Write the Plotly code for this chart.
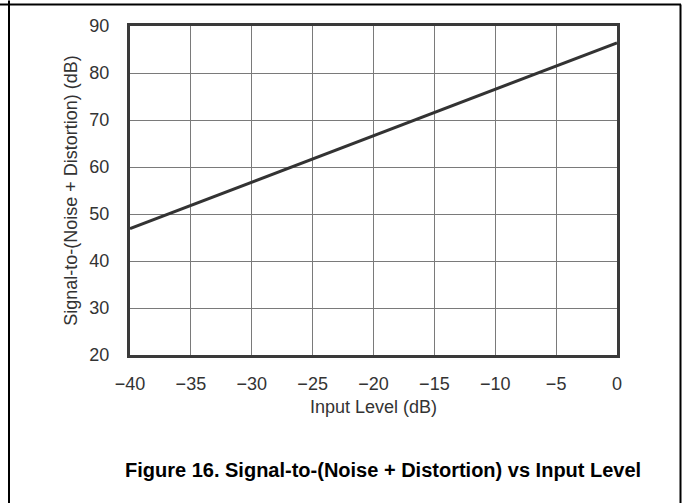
import plotly.graph_objects as go

input_level = [-40, 0]
sinad = [46.9, 86.4]
x_ticks = [-40, -35, -30, -25, -20, -15, -10, -5, 0]
x_tick_labels = ["\u221240", "\u221235", "\u221230", "\u221225", "\u221220", "\u221215", "\u221210", "\u22125", "0"]
y_ticks = [20, 30, 40, 50, 60, 70, 80, 90]

W, H = 683, 504
L, R, T, B = 130, 617, 25.5, 355.5
pw, ph = R - L, B - T

def px(x):
    return (x - L) / pw

def py(y):
    return (B - y) / ph

fig = go.Figure()
fig.add_trace(go.Scatter(x=input_level, y=sinad, mode="lines",
                         line=dict(color="#333333", width=3), showlegend=False))

font_family = "Liberation Sans, Arial, sans-serif"
fig.update_layout(
    width=W, height=H,
    margin=dict(l=L, r=W - R, t=T, b=H - B),
    paper_bgcolor="white", plot_bgcolor="white",
    font=dict(family=font_family, color="#333333", size=18),
    xaxis=dict(range=[-40, 0], tickvals=x_ticks, ticktext=x_tick_labels,
               showgrid=True, gridcolor="#7a7a7a", gridwidth=1,
               showline=True, linecolor="#3a3a3a", linewidth=3, mirror=True,
               ticks="outside", ticklen=10, tickcolor="rgba(0,0,0,0)",
               zeroline=False,
               title=dict(text="Input Level (dB)", standoff=8, font=dict(size=18))),
    yaxis=dict(range=[20, 90], tickvals=y_ticks,
               showgrid=True, gridcolor="#7a7a7a", gridwidth=1,
               showline=True, linecolor="#3a3a3a", linewidth=3, mirror=True,
               ticks="outside", ticklen=14, tickcolor="rgba(0,0,0,0)",
               zeroline=False,
               title=dict(text="Signal-to-(Noise + Distortion) (dB)", standoff=8, font=dict(size=18))),
    shapes=[
        dict(type="line", xref="paper", yref="paper", x0=px(0), x1=px(681), y0=py(4), y1=py(4),
             line=dict(color="black", width=2)),
        dict(type="line", xref="paper", yref="paper", x0=px(9), x1=px(9), y0=py(0), y1=py(504),
             line=dict(color="black", width=2)),
        dict(type="line", xref="paper", yref="paper", x0=px(680.5), x1=px(680.5), y0=py(4), y1=py(504),
             line=dict(color="black", width=2)),
    ],
    annotations=[
        dict(text="<b>Figure 16. Signal-to-(Noise + Distortion) vs Input Level</b>",
             xref="paper", yref="paper", x=px(383), y=py(471), showarrow=False,
             xanchor="center", yanchor="middle",
             font=dict(family=font_family, size=20, color="black")),
    ],
)

fig.write_html("out.html", config={"displayModeBar": False},
               post_script="document.body.style.margin='0';document.body.style.overflow='hidden';")
